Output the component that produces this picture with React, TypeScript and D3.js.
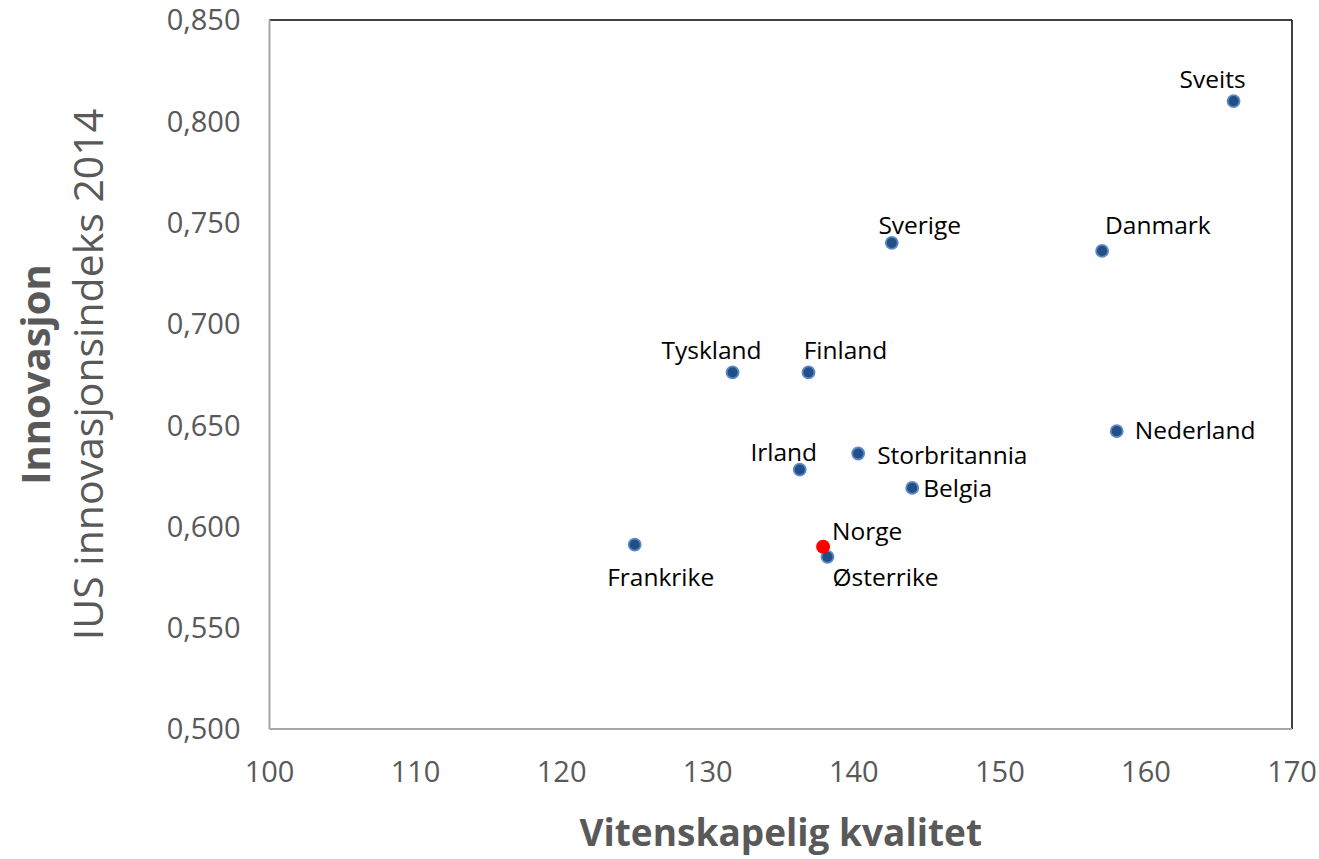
import { useEffect, useRef } from 'react';
import * as d3 from 'd3';

const WIDTH = 1319;
const HEIGHT = 859;
const MARGIN = { top: 20, right: 27, bottom: 130, left: 269.5 };

const countries = ['Sveits', 'Sverige', 'Danmark', 'Tyskland', 'Finland', 'Nederland', 'Storbritannia', 'Irland', 'Belgia', 'Frankrike', 'Østerrike', 'Norge'];
const science = [166.0, 142.6, 157.0, 131.7, 136.9, 158.0, 140.3, 136.3, 144.0, 125.0, 138.2, 137.9];
const innovation = [0.810, 0.740, 0.736, 0.676, 0.676, 0.647, 0.636, 0.628, 0.619, 0.591, 0.585, 0.590];
const highlight = 'Norge';

const xTicks = [100, 110, 120, 130, 140, 150, 160, 170];
const yTicks = [0.5, 0.55, 0.6, 0.65, 0.7, 0.75, 0.8, 0.85];

// label placement relative to the point: dx, dy, anchor
const labelPos: Record<string, [number, number, string]> = {
  Sveits: [-21, -13, 'middle'],
  Sverige: [28, -9, 'middle'],
  Danmark: [3, -17, 'start'],
  Tyskland: [-21, -13, 'middle'],
  Finland: [37, -13, 'middle'],
  Nederland: [18, 8, 'start'],
  Storbritannia: [19, 10, 'start'],
  Irland: [-16, -9, 'middle'],
  Belgia: [11, 9, 'start'],
  Frankrike: [26, 41, 'middle'],
  Østerrike: [5, 29, 'start'],
  Norge: [9, -7, 'start'],
};

const FONT = '"Open Sans", sans-serif';
const GREY = '#595959';

export default function App() {
  const svgRef = useRef<SVGSVGElement>(null);

  useEffect(() => {
    document.body.style.margin = '0';
    const svg = d3.select(svgRef.current);
    svg.selectAll('*').remove();

    const w = WIDTH - MARGIN.left - MARGIN.right;
    const h = HEIGHT - MARGIN.top - MARGIN.bottom;
    const g = svg.append('g').attr('transform', `translate(${MARGIN.left},${MARGIN.top})`);

    const x = d3.scaleLinear().domain([100, 170]).range([0, w]);
    const y = d3.scaleLinear().domain([0.5, 0.85]).range([h, 0]);

    // frame: grey left/bottom, black top/right
    g.append('line').attr('x1', 0).attr('x2', w).attr('y1', 0).attr('y2', 0).attr('stroke', '#000').attr('stroke-width', 1.5);
    g.append('line').attr('x1', w).attr('x2', w).attr('y1', 0).attr('y2', h).attr('stroke', '#000').attr('stroke-width', 1.5);
    g.append('line').attr('x1', 0).attr('x2', 0).attr('y1', 0).attr('y2', h).attr('stroke', '#a6a6a6').attr('stroke-width', 2);
    g.append('line').attr('x1', 0).attr('x2', w).attr('y1', h).attr('y2', h).attr('stroke', '#a6a6a6').attr('stroke-width', 2);

    // tick labels
    g.selectAll('.xt')
      .data(xTicks)
      .join('text')
      .attr('x', (d) => x(d))
      .attr('y', h + 53)
      .attr('text-anchor', 'middle')
      .style('font-family', FONT)
      .style('font-size', '29px')
      .style('fill', GREY)
      .text((d) => d3.format('d')(d));

    g.selectAll('.yt')
      .data(yTicks)
      .join('text')
      .attr('x', -29)
      .attr('y', (d) => y(d))
      .attr('dy', '0.36em')
      .attr('text-anchor', 'end')
      .style('font-family', FONT)
      .style('font-size', '29px')
      .style('fill', GREY)
      .text((d) => d3.format('.3f')(d).replace('.', ','));

    // axis titles
    svg.append('text')
      .attr('x', MARGIN.left + w / 2)
      .attr('y', 846)
      .attr('text-anchor', 'middle')
      .style('font-family', FONT)
      .style('font-size', '37px')
      .style('font-weight', 700)
      .style('fill', GREY)
      .text('Vitenskapelig kvalitet');

    const cy = MARGIN.top + h / 2;
    svg.append('text')
      .attr('transform', `translate(50,${cy}) rotate(-90)`)
      .attr('text-anchor', 'middle')
      .style('font-family', FONT)
      .style('font-size', '40px')
      .style('font-weight', 700)
      .style('fill', GREY)
      .text('Innovasjon');
    svg.append('text')
      .attr('transform', `translate(103,${cy}) rotate(-90)`)
      .attr('text-anchor', 'middle')
      .style('font-family', FONT)
      .style('font-size', '41px')
      .style('fill', GREY)
      .text('IUS innovasjonsindeks 2014');

    const data = countries.map((c, i) => ({ name: c, sx: science[i], iy: innovation[i] }));
    const order = [...data.filter((d) => d.name !== highlight), ...data.filter((d) => d.name === highlight)];

    // points
    g.selectAll('circle')
      .data(order)
      .join('circle')
      .attr('cx', (d) => x(d.sx))
      .attr('cy', (d) => y(d.iy))
      .attr('r', (d) => (d.name === highlight ? 7 : 6))
      .attr('fill', (d) => (d.name === highlight ? '#ff0000' : '#234f89'))
      .attr('stroke', (d) => (d.name === highlight ? 'none' : '#5b8ac6'))
      .attr('stroke-width', 1.8);

    // labels
    g.selectAll('.lbl')
      .data(data)
      .join('text')
      .attr('x', (d) => x(d.sx) + labelPos[d.name][0])
      .attr('y', (d) => y(d.iy) + labelPos[d.name][1])
      .attr('text-anchor', (d) => labelPos[d.name][2])
      .style('font-family', FONT)
      .style('font-size', '24.5px')
      .style('fill', '#000')
      .text((d) => d.name);
  }, []);

  return <svg ref={svgRef} width={WIDTH} height={HEIGHT} style={{ display: 'block', background: '#fff' }} />;
}
